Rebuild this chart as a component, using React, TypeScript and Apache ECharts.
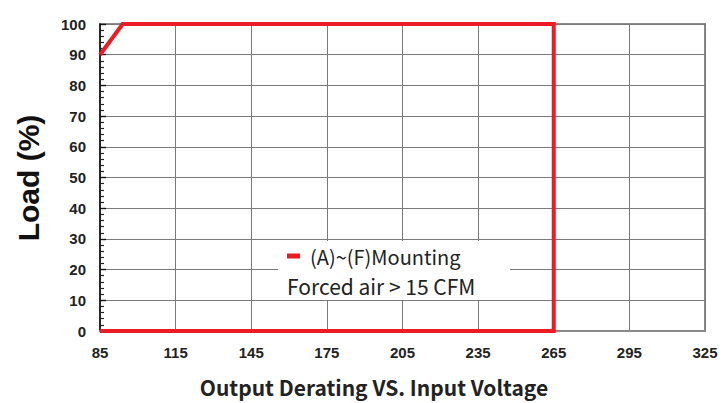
import React, { useEffect, useRef } from "react";
import * as echarts from "echarts";

const xTicks = [85, 115, 145, 175, 205, 235, 265, 295, 325];
const yTicks = [0, 10, 20, 30, 40, 50, 60, 70, 80, 90, 100];
const seriesName = "(A)~(F)Mounting";
const noteText = "Forced air > 15 CFM";
const voltage = [85, 265, 265, 94, 85];
const load = [0, 0, 100, 100, 90];
const yTitle = "Load (%)";
const chartTitle = "Output Derating VS. Input Voltage";

export default function App() {
  const ref = useRef<HTMLDivElement>(null);
  useEffect(() => {
    if (!ref.current) return;
    const chart = echarts.init(ref.current, null, { renderer: "svg" });
    const data = voltage.map((v, i) => [v, load[i]]);
    const gray = "#8a8a8a";
    chart.setOption({
      animation: false,
      grid: {
        left: 100,
        right: 19,
        top: 24,
        bottom: 72,
        show: true,
        borderColor: gray,
        borderWidth: 2,
      },
      xAxis: [
        {
          type: "value",
          min: xTicks[0],
          max: xTicks[xTicks.length - 1],
          interval: 30,
          axisLine: { show: true, lineStyle: { color: gray, width: 2 } },
          axisTick: { show: false },
          axisLabel: {
            margin: 14,
            fontFamily: "Liberation Sans, Arial, sans-serif",
            fontWeight: "bold",
            fontSize: 15,
            color: "#222",
          },
          splitLine: { show: true, lineStyle: { color: "#7a7a7a", width: 1 } },
        },
      ],
      yAxis: [
        {
          type: "value",
          min: yTicks[0],
          max: yTicks[yTicks.length - 1],
          interval: 10,
          axisLine: { show: true, lineStyle: { color: "#111", width: 1.6 } },
          axisTick: { show: true, inside: true, length: 6, lineStyle: { color: "#111", width: 1.4 } },
          minorTick: { show: true, splitNumber: 5, length: 4, lineStyle: { color: "#222", width: 1.2 } },
          axisLabel: {
            margin: 14,
            fontFamily: "Liberation Sans, Arial, sans-serif",
            fontWeight: "bold",
            fontSize: 15,
            color: "#222",
          },
          splitLine: { show: true, lineStyle: { color: "#7a7a7a", width: 1 } },
        },
      ],
      legend: {
        show: true,
        left: 287,
        top: 246,
        z: 20,
        icon: "rect",
        itemWidth: 13,
        itemHeight: 5,
        itemGap: 0,
        padding: 0,
        textStyle: {
          fontFamily: "Noto Sans CJK SC, Noto Sans, sans-serif",
          fontSize: 20,
          color: "#222",
          padding: [0, 0, 0, 5],
        },
        data: [seriesName],
      },
      graphic: [
        {
          type: "rect",
          shape: { x: 278, y: 241, width: 232, height: 59 },
          style: { fill: "#fff" },
          z: 1,
          silent: true,
        },
        {
          type: "text",
          x: 287,
          y: 286,
          z: 20,
          style: {
            text: noteText,
            fontFamily: "Noto Sans CJK SC, Noto Sans, sans-serif",
            fontSize: 21,
            fill: "#222",
            verticalAlign: "middle",
          },
        },
        {
          type: "text",
          x: 28,
          y: 178,
          rotation: Math.PI / 2,
          style: {
            text: yTitle,
            fontFamily: "Liberation Sans, Arial, sans-serif",
            fontWeight: "bold",
            fontSize: 30,
            fill: "#111",
            align: "center",
            verticalAlign: "middle",
          },
        },
        {
          type: "text",
          x: 374,
          y: 387,
          style: {
            text: chartTitle,
            fontFamily: "Noto Sans CJK SC, Noto Sans, sans-serif",
            fontWeight: "bold",
            fontSize: 21,
            fill: "#222",
            align: "center",
            verticalAlign: "middle",
          },
        },
      ],
      series: [
        {
          name: seriesName,
          type: "line",
          data,
          showSymbol: false,
          symbol: "none",
          clip: false,
          color: "#ec1c24",
          lineStyle: { color: "#ec1c24", width: 4, join: "miter" },
          z: 10,
        },
      ],
    });
    return () => chart.dispose();
  }, []);
  return (
    <div
      ref={ref}
      style={{ position: "fixed", left: 0, top: 0, width: 724, height: 403, background: "#fff" }}
    />
  );
}
